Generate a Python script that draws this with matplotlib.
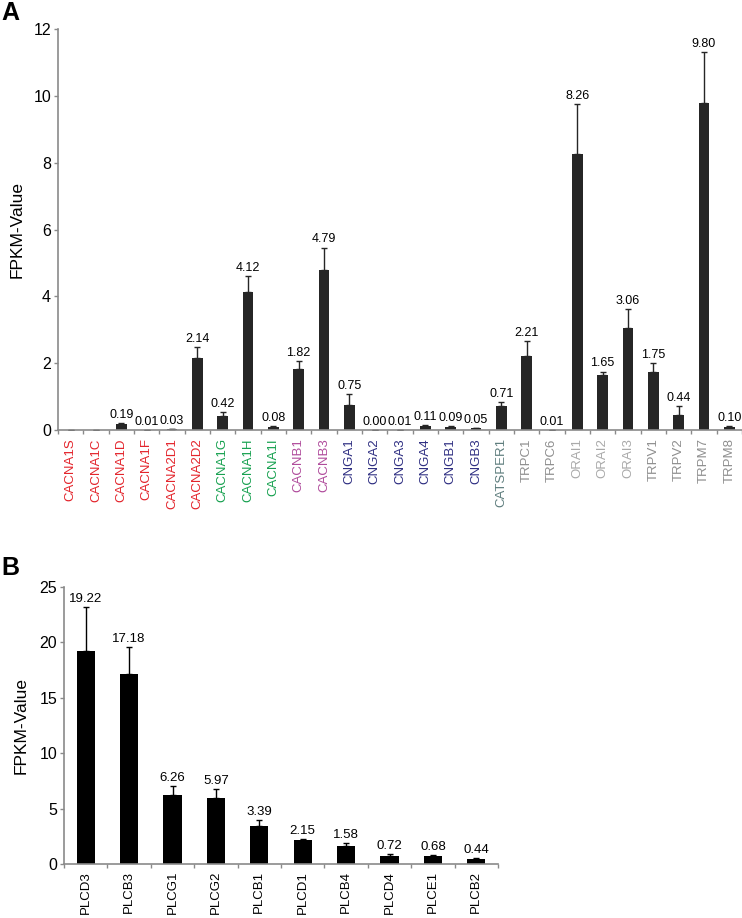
import numpy as np
import matplotlib.pyplot as plt

plt.rcParams['font.family'] = ['Liberation Sans', 'DejaVu Sans']

# Panel A data: calcium channel genes
genes_a = ['CACNA1S', 'CACNA1C', 'CACNA1D', 'CACNA1F', 'CACNA2D1', 'CACNA2D2',
           'CACNA1G', 'CACNA1H', 'CACNA1I', 'CACNB1', 'CACNB3',
           'CNGA1', 'CNGA2', 'CNGA3', 'CNGA4', 'CNGB1', 'CNGB3',
           'CATSPER1', 'TRPC1', 'TRPC6', 'ORAI1', 'ORAI2', 'ORAI3',
           'TRPV1', 'TRPV2', 'TRPM7', 'TRPM8']
fpkm_a = [0.0, 0.0, 0.19, 0.01, 0.03, 2.14,
          0.42, 4.12, 0.08, 1.82, 4.79,
          0.75, 0.00, 0.01, 0.11, 0.09, 0.05,
          0.71, 2.21, 0.01, 8.26, 1.65, 3.06,
          1.75, 0.44, 9.80, 0.10]
err_a = [0.0, 0.0, 0.03, 0.0, 0.0, 0.35,
         0.11, 0.49, 0.04, 0.23, 0.67,
         0.32, 0.0, 0.0, 0.04, 0.04, 0.02,
         0.14, 0.46, 0.0, 1.49, 0.10, 0.55,
         0.25, 0.29, 1.50, 0.03]
labels_a = [None, None, '0.19', '0.01', '0.03', '2.14',
            '0.42', '4.12', '0.08', '1.82', '4.79',
            '0.75', '0.00', '0.01', '0.11', '0.09', '0.05',
            '0.71', '2.21', '0.01', '8.26', '1.65', '3.06',
            '1.75', '0.44', '9.80', '0.10']
groups_a = ['cav1'] * 6 + ['cav3'] * 3 + ['cavb'] * 2 + ['cng'] * 6 + \
           ['catsper'] + ['trp'] * 2 + ['orai'] * 3 + ['trp'] * 4
group_colors = {'cav1': '#e3242b', 'cav3': '#17a150', 'cavb': '#b04c9c',
                'cng': '#2f2f82', 'catsper': '#5e7d7d', 'trp': '#8e8e8e',
                'orai': '#a9a9a9'}

# Panel B data: phospholipase C genes
genes_b = ['PLCD3', 'PLCB3', 'PLCG1', 'PLCG2', 'PLCB1',
           'PLCD1', 'PLCB4', 'PLCD4', 'PLCE1', 'PLCB2']
fpkm_b = [19.22, 17.18, 6.26, 5.97, 3.39, 2.15, 1.58, 0.72, 0.68, 0.44]
err_b = [3.94, 2.40, 0.81, 0.83, 0.58, 0.13, 0.28, 0.18, 0.10, 0.08]

axis_grey = '#8a8a8a'

fig = plt.figure(figsize=(7.42, 9.18), dpi=100)


def style_axis(ax, n):
    for side in ['top', 'right']:
        ax.spines[side].set_visible(False)
    for side in ['left', 'bottom']:
        ax.spines[side].set_color(axis_grey)
        ax.spines[side].set_linewidth(1.2)
    ax.set_xlim(-0.5, n - 0.5)
    ax.set_xticks(np.arange(n))
    ax.set_xticks(np.arange(n + 1) - 0.5, minor=True)
    ax.tick_params(axis='x', which='major', length=0, pad=6)
    ax.tick_params(axis='x', which='minor', length=3, width=1, color=axis_grey,
                   direction='out')
    ax.tick_params(axis='y', length=3, width=1, color=axis_grey, pad=2,
                   labelsize=11.5)


# Panel A
ax1 = fig.add_axes([58 / 742, 1 - 430 / 918, 684 / 742, 401 / 918])
x_a = np.arange(len(genes_a))
ax1.bar(x_a, fpkm_a, width=0.42, color='#262626', zorder=2,
        yerr=[np.zeros(len(err_a)), err_a],
        error_kw=dict(ecolor='#262626', elinewidth=1, capsize=2, capthick=1))
for xi, v, e, lab in zip(x_a, fpkm_a, err_a, labels_a):
    if lab is None:
        continue
    ax1.annotate(lab, (xi, v + e), xytext=(0, 1.5), textcoords='offset points',
                 ha='center', va='bottom', fontsize=9)
style_axis(ax1, len(genes_a))
ax1.set_ylim(0, 12)
ax1.set_yticks(np.arange(0, 13, 2))
ax1.set_xticklabels(genes_a, rotation=90, fontsize=9.5)
for tl, g in zip(ax1.get_xticklabels(), groups_a):
    tl.set_color(group_colors[g])
ax1.set_ylabel('FPKM-Value', fontsize=12.5, labelpad=6)
ax1.spines['bottom'].set_clip_on(False)

# Panel B
ax2 = fig.add_axes([64 / 742, 1 - 864 / 918, 434 / 742, 277 / 918])
x_b = np.arange(len(genes_b))
ax2.bar(x_b, fpkm_b, width=0.42, color='black', zorder=2,
        yerr=[np.zeros(len(err_b)), err_b],
        error_kw=dict(ecolor='black', elinewidth=1, capsize=2, capthick=1))
for xi, v, e in zip(x_b, fpkm_b, err_b):
    ax2.annotate(f'{v:.2f}', (xi, v + e), xytext=(0, 1.5),
                 textcoords='offset points', ha='center', va='bottom',
                 fontsize=9.5)
style_axis(ax2, len(genes_b))
ax2.set_ylim(0, 25)
ax2.set_yticks(np.arange(0, 26, 5))
ax2.set_xticklabels(genes_b, rotation=90, fontsize=9.5)
ax2.tick_params(axis='x', which='major', pad=5)
ax2.set_ylabel('FPKM-Value', fontsize=12.5, labelpad=8)

# Panel letters
fig.text(0.002, 1 - 1 / 918, 'A', fontsize=18, fontweight='bold', va='top')
fig.text(0.002, 1 - 556 / 918, 'B', fontsize=18, fontweight='bold', va='top')

fig.savefig('out.png', dpi=100)
